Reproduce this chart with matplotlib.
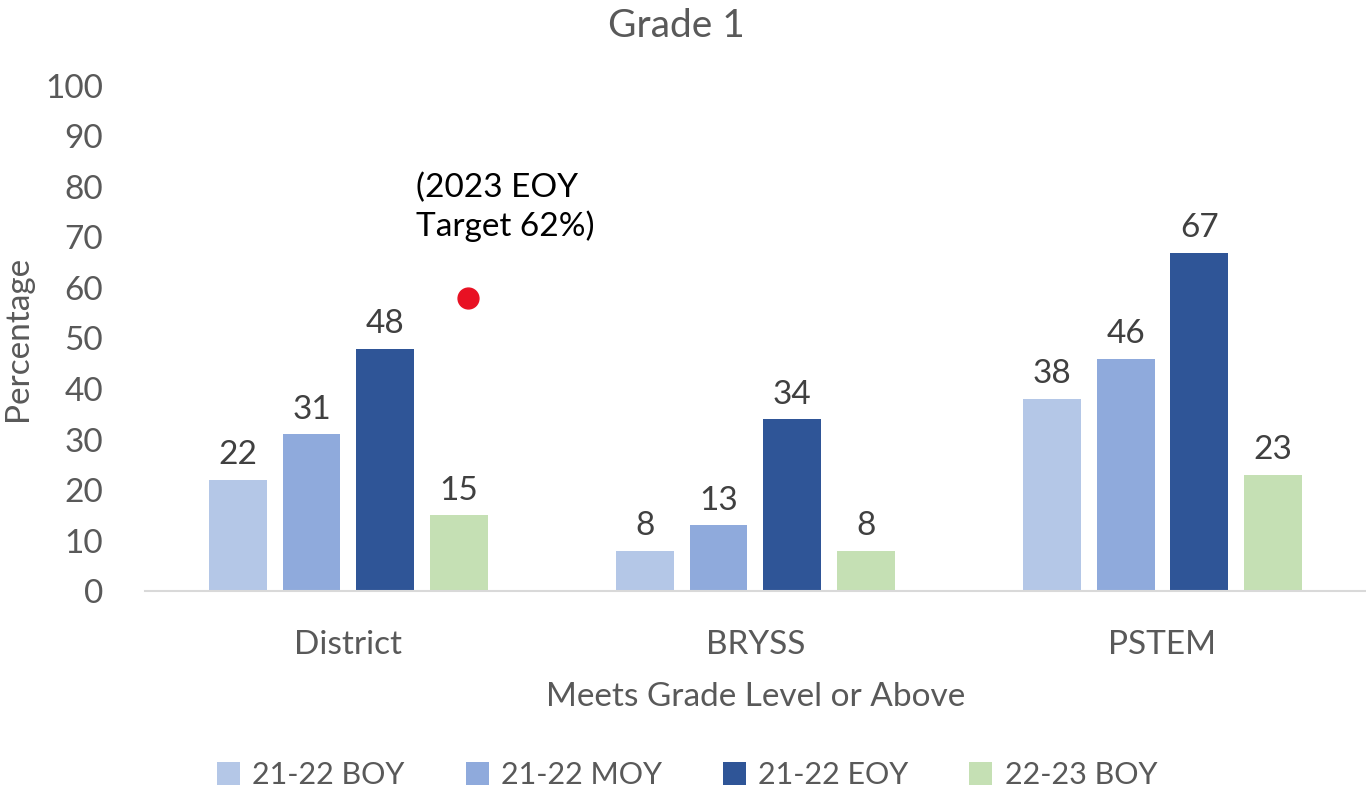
import numpy as np
import matplotlib.pyplot as plt

plt.rcParams['font.family'] = ['Lato', 'DejaVu Sans']

schools = ["District", "BRYSS", "PSTEM"]
series = ["21-22 BOY", "21-22 MOY", "21-22 EOY", "22-23 BOY"]
boy_2122 = [22, 8, 38]
moy_2122 = [31, 13, 46]
eoy_2122 = [48, 34, 67]
boy_2223 = [15, 8, 23]
target_value = 58
colors = ["#b4c7e7", "#8faadc", "#2f5597", "#c5e0b4"]
grey = "#595959"
fs = 24

fig = plt.figure(figsize=(13.66, 7.96), dpi=100)
ax = fig.add_axes([0.106, 0.2575, 0.894, 0.6345])

x = np.arange(len(schools))
step = 0.181
width = 0.142
values = [boy_2122, moy_2122, eoy_2122, boy_2223]
for i, (vals, name, c) in enumerate(zip(values, series, colors)):
    pos = x + (i - 1.5) * step
    bars = ax.bar(pos, vals, width, color=c, label=name)
    for b, v in zip(bars, vals):
        ax.annotate(str(v), (b.get_x() + b.get_width() / 2, v),
                    xytext=(0, 7), textcoords="offset points",
                    ha="center", va="bottom", fontsize=fs, color="#404040")

# target marker
ax.plot([0.294], [target_value], "o", color="#e81123", markersize=15)
ax.text(0.167, 76, "(2023 EOY\nTarget 62%)", ha="left", va="center",
        fontsize=fs, color="black", linespacing=1.3)

ax.set_xlim(-0.5, 2.5)
ax.set_ylim(0, 100)
ax.set_yticks(range(0, 101, 10))
ax.set_xticks(x)
ax.set_xticklabels(schools)
ax.tick_params(axis="both", length=0, labelsize=fs, colors=grey)
ax.tick_params(axis="x", pad=28)
ax.tick_params(axis="y", pad=30)
for s in ["top", "right", "left"]:
    ax.spines[s].set_visible(False)
ax.spines["bottom"].set_color("#d9d9d9")
ax.spines["bottom"].set_linewidth(1.5)

fig.suptitle("Grade 1", fontsize=28, color=grey, x=0.495, y=0.99, va="top")
ax.set_xlabel("Meets Grade Level or Above", fontsize=fs, color=grey, labelpad=16)
ax.set_ylabel("Percentage", fontsize=fs, color=grey, va="center")
ax.yaxis.set_label_coords(-0.104, 0.5)

fig.legend(loc="lower center", bbox_to_anchor=(0.503, -0.026), ncol=4, frameon=False,
           fontsize=22, labelcolor=grey, handlelength=0.75, handleheight=0.75,
           columnspacing=2.0, handletextpad=0.4)

fig.savefig("out.png", dpi=100)
